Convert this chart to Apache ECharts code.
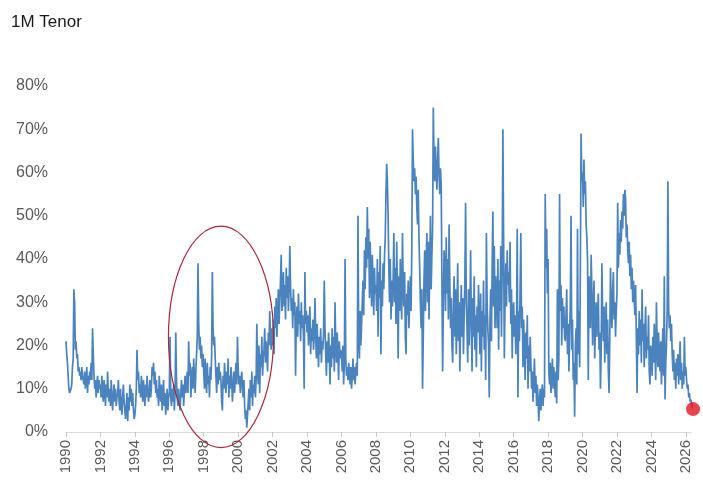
<!DOCTYPE html>
<html>
<head>
<meta charset="utf-8">
<script src="https://cdn.jsdelivr.net/npm/echarts@6/dist/echarts.min.js"></script>
<style>
html,body{margin:0;padding:0;background:#fff;}
#chart{width:703px;height:489px;}
</style>
</head>
<body>
<div id="chart"></div>
<script>
// ---- Data: 1M tenor values (%), ~2 readings per month ----
const startYear = 1990;
const pointsPerYear = 24;
const y1990 = [21,18,16,13,10,9,9,10,11,15,17,33,30,19,21,17,18,14,15,13,14,12,15,13];
const y1991 = [13,11,14,10,12,15,9,13,11,14,12,16,12,24,18,13,10,12,8,11,13,9,12,10];
const y1992 = [11,8,13,9,7,12,10,6,11,8,14,9,7,10,6,12,8,5,9,11,7,10,6,8];
const y1993 = [9,12,7,5,10,6,4,8,11,7,5,3,6,9,2.5,8,5,11,7,10,6,9,5,3];
const y1994 = [4,6,10,19,12,14,9,11,8,13,10,7,12,9,6,11,8,13,10,7,9,12,8,10];
const y1995 = [15,13,16,11,14,9,12,8,10,6,13,9,7,11,5,8,12,6,9,4,7,10,5,8];
const y1996 = [9,22,8,6,10,7,11,5,9,23,12,8,6,10,7,5,9,12,8,11,6,10,13,9];
const y1997 = [11,14,9,21,13,16,8,12,15,10,17,13,9,14,18,22,39,25,19,22,17,20,15,18];
const y1998 = [14,10,17,12,9,16,11,13,8,15,12,18,37,24,20,22,17,13,9,15,11,16,12,14];
const y1999 = [12,7,5,13,10,16,12,9,14,11,17,8,13,10,15,12,7,11,14,9,13,16,11,22];
const y2000 = [15,11,13,9,12,14,10,8,12,6,3,5,1,4,7,10,5,12,8,14,6,11,9,13];
const y2001 = [8,12,25,14,11,20,9,18,15,22,13,17,19,24,16,21,18,14,23,20,28,22,19,24];
const y2002 = [20,26,18,29,24,31,22,27,33,25,30,35,41,28,32,37,29,34,26,38,31,36,28,33];
const y2003 = [43,34,28,31,24,33,27,30,13,26,29,22,32,25,28,21,30,24,27,22,10,37,25,28];
const y2004 = [23,27,20,25,29,18,24,21,26,19,22,31,23,17,25,20,15,22,18,24,16,21,19,23];
const y2005 = [35,24,18,13,21,16,23,19,11,20,15,24,17,22,14,30,20,16,23,18,12,21,17,19];
const y2006 = [18,14,20,11,16,40,17,13,15,12,16,14,11,15,10,13,17,12,15,11,14,16,13,50];
const y2007 = [22,17,28,20,25,30,35,27,42,33,45,38,52,40,47,31,44,36,29,41,34,27,38,32];
const y2008 = [34,28,40,22,37,31,43,18,35,29,39,33,41,45,55,62,58,50,38,30,40,26,35,29];
const y2009 = [35,46,30,38,25,44,33,17,36,28,40,31,26,46,34,29,37,22,18,32,27,35,24,30];
const y2010 = [36,28,42,70,63,58,61,55,59,52,48,56,45,38,30,24,33,10,22,35,42,28,38,46];
const y2011 = [30,44,26,38,50,33,41,47,75,62,58,66,60,56,63,68,59,55,61,57,35,14,30,42];
const y2012 = [38,28,45,32,40,26,48,35,24,31,20,16,29,36,22,33,18,27,39,21,30,14,25,34];
const y2013 = [22,31,18,27,35,53,30,24,16,33,20,28,42,25,14,31,22,36,19,27,15,29,23,34];
const y2014 = [25,18,32,14,28,22,35,19,27,12,46,30,24,20,8,26,33,21,38,51,29,43,24,36];
const y2015 = [33,24,40,19,35,28,43,22,38,70,45,17,31,39,29,42,34,37,30,44,25,33,17,28];
const y2016 = [30,22,27,18,25,47,8,28,21,33,46,24,29,15,26,19,12,23,17,27,10,20,14,22];
const y2017 = [16,10,14,7,12,17,9,13,6,11,8,2.5,7,10,5,9,11,6,10,8,55,38,47,32];
const y2018 = [40,14,11,16,9,13,17,10,15,12,8,14,6.6,33,12,17,55,28,34,20,31,24,29,22];
const y2019 = [21,27,33,18,25,14,22,30,50,19,26,12,16,3.5,20,24,11,47,18,28,15,38,69,58];
const y2020 = [60,52,63,55,58,48,45,40,12,36,30,24,41,33,20,28,35,17,25,30,22,27,32,19];
const y2021 = [23,10,19,39,27,21,29,16,24,30,18,26,14,9,22,38,28,24,33,37,26,30,22,28];
const y2022 = [32,53,38,46,41,49,44,51,47,55,50,56,54,45,48,42,39,44,36,41,33,38,30,35];
const y2023 = [31,27,34,22,9,24,18,28,20,26,16,33,21,25,15,23,29,17,22,19,27,14,11,20];
const y2024 = [18,13,22,16,25,19,12,30,20,15,23,17,14,21,11,18,24,13,36,7.5,16,20,28,58];
const y2025 = [29,24,27,21,25,18,14,19,12,16,10,17,13,18,11,15,21,12,16,10,14,11,22,13];
const y2026 = [15,12,10,11,8,9,7,7.5,6.5,6,5.3];
const yearBlocks = [y1990,y1991,y1992,y1993,y1994,y1995,y1996,y1997,y1998,y1999,
  y2000,y2001,y2002,y2003,y2004,y2005,y2006,y2007,y2008,y2009,
  y2010,y2011,y2012,y2013,y2014,y2015,y2016,y2017,y2018,y2019,
  y2020,y2021,y2022,y2023,y2024,y2025,y2026];
const tickYears = [1990,1992,1994,1996,1998,2000,2002,2004,2006,2008,2010,2012,2014,2016,2018,2020,2022,2024,2026];
const yTicks = [0,10,20,30,40,50,60,70,80];
const titleText = '1M Tenor';
// Annotation ellipse (data units): centre [year, %] and half-spans
const ellipseCenter = [1999.0, 22];
const ellipseHalf = [3.05, 25.6];

// ---- Build series ----
const seriesData = [];
yearBlocks.forEach(function(block, yi){
  block.forEach(function(v, i){
    seriesData.push([startYear + yi + i / pointsPerYear, v]);
  });
});
const lastPoint = seriesData[seriesData.length - 1];

const chart = echarts.init(document.getElementById('chart'), null, {renderer:'canvas'});
const axisFont = "'Liberation Sans', Arial, sans-serif";
chart.setOption({
  animation:false,
  title:{
    text:titleText, left:6, top:9,
    textStyle:{fontSize:17, fontWeight:'normal', color:'#1a1a1a', fontFamily:"'Liberation Sans', Arial, sans-serif"}
  },
  grid:{left:66, right:12, top:86, bottom:57, containLabel:false},
  xAxis:{
    type:'value', min:startYear, max:2026.3, interval:2,
    axisLine:{show:true, lineStyle:{color:'#d9d9d9', width:1}},
    axisTick:{show:true, length:5, lineStyle:{color:'#c8c8c8'}, customValues:tickYears},
    axisLabel:{rotate:90, margin:8, fontSize:15, color:'#595959', fontFamily:axisFont,
      customValues:tickYears,
      formatter:function(v){ return (Math.abs(v - Math.round(v)) < 1e-6) ? String(Math.round(v)) : ''; }},
    splitLine:{show:false}
  },
  yAxis:{
    type:'value', min:0, max:80, interval:10,
    axisLine:{show:false}, axisTick:{show:false}, splitLine:{show:false},
    axisLabel:{margin:18, fontSize:16, color:'#595959', fontFamily:axisFont,
      customValues:yTicks, formatter:function(v){ return v + '%'; }}
  },
  series:[
    {
      type:'line', data:seriesData, showSymbol:false, clip:false,
      lineStyle:{color:'#4a83bd', width:1.7}, z:2
    },
    {
      type:'scatter', data:[lastPoint], symbolSize:14, clip:false,
      itemStyle:{color:'#e3141e'}, z:3
    }
  ]
});

const c = chart.convertToPixel({gridIndex:0}, ellipseCenter);
const e = chart.convertToPixel({gridIndex:0}, [ellipseCenter[0] + ellipseHalf[0], ellipseCenter[1] + ellipseHalf[1]]);
chart.setOption({
  graphic:[{
    type:'ellipse', z:10,
    shape:{cx:c[0], cy:c[1], rx:Math.abs(e[0]-c[0]), ry:Math.abs(e[1]-c[1])},
    style:{fill:'none', stroke:'#a8283a', lineWidth:1.2}
  }]
});
</script>
</body>
</html>
